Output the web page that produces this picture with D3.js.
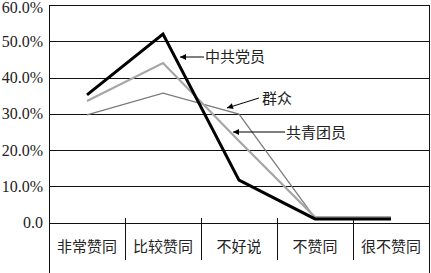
<!DOCTYPE html>
<html><head><meta charset="utf-8">
<script src="https://cdn.jsdelivr.net/npm/d3@7"></script>
<style>body{margin:0;background:#fff}svg{display:block}</style>
</head><body>
<svg id="c" width="431" height="273"></svg>
<script>
const categories = ["非常赞同","比较赞同","不好说","不赞同","很不赞同"];
const partyMember = [35.2, 52.0, 11.7, 1.0, 1.0];   // 中共党员
const youthLeague = [33.5, 44.0, 22.5, 1.5, 1.5];   // 共青团员
const masses      = [29.7, 35.7, 29.9, 1.2, 1.2];   // 群众
const yTicks = [0,10,20,30,40,50,60];
const yTickLabels = ["0.0","10.0%","20.0%","30.0%","40.0%","50.0%","60.0%"];

const svg = d3.select("#c");
const L = 49, R = 429, T = 5, B0 = 222.5;
const x = d3.scaleBand().domain(categories).range([L, R]);
const y = d3.scaleLinear().domain([0,60]).range([B0, T]);

// gridlines
svg.append("g").selectAll("line").data(yTicks).join("line")
  .attr("x1", L).attr("x2", R)
  .attr("y1", d => Math.round(y(d)) + 0.5).attr("y2", d => Math.round(y(d)) + 0.5)
  .attr("stroke", "#111").attr("stroke-width", 1);
// frame
svg.append("line").attr("x1", L+0.5).attr("x2", L+0.5).attr("y1", T).attr("y2", 273).attr("stroke","#111");
svg.append("line").attr("x1", R+0.5).attr("x2", R+0.5).attr("y1", T).attr("y2", 273).attr("stroke","#111");

// y labels
svg.append("g").selectAll("text").data(yTicks).join("text")
  .attr("x", 43).attr("y", d => Math.max(y(d) + 5.5, 13))
  .attr("text-anchor", "end")
  .attr("font-family", "Liberation Serif, serif").attr("font-size", 16).attr("fill", "#222")
  .text((d,i) => yTickLabels[i]);

// category separators
svg.append("g").selectAll("line").data(categories.slice(1)).join("line")
  .attr("x1", d => Math.round(x(d)) + 0.5).attr("x2", d => Math.round(x(d)) + 0.5)
  .attr("y1", 218).attr("y2", 260).attr("stroke", "#111");
// category labels
svg.append("g").selectAll("text").data(categories).join("text")
  .attr("x", d => x(d) + x.bandwidth()/2).attr("y", 247).attr("dy", "0.35em")
  .attr("text-anchor", "middle")
  .attr("font-family", "Noto Sans CJK SC, sans-serif").attr("font-size", 15).attr("fill", "#222")
  .text(d => d);

const line = d3.line().x((d,i) => x(categories[i]) + x.bandwidth()/2).y(d => y(d));
svg.append("path").attr("d", line(masses)).attr("fill","none").attr("stroke","#7a7a7a").attr("stroke-width",1.2);
svg.append("path").attr("d", line(youthLeague)).attr("fill","none").attr("stroke","#a6a6a6").attr("stroke-width",2.2);
svg.append("path").attr("d", line(partyMember)).attr("fill","none").attr("stroke","#000").attr("stroke-width",3).attr("stroke-linejoin","miter");

// annotations
const defs = svg.append("defs");
defs.append("marker").attr("id","ah").attr("viewBox","0 0 10 10").attr("refX",10).attr("refY",5)
  .attr("markerWidth",8).attr("markerHeight",6).attr("markerUnits","userSpaceOnUse").attr("orient","auto")
  .append("path").attr("d","M0,0 L10,5 L0,10 z").attr("fill","#000");
const notes = [
  {t:"中共党员", tip:[180,57], from:[204,57], tx:205, ty:57},
  {t:"群众", tip:[227,108], from:[259,98], tx:262, ty:99},
  {t:"共青团员", tip:[233,132], from:[285,132], tx:286, ty:133}
];
notes.forEach(n => {
  svg.append("line").attr("x1", n.from[0]).attr("y1", n.from[1]).attr("x2", n.tip[0]).attr("y2", n.tip[1])
    .attr("stroke","#000").attr("stroke-width",1).attr("marker-end","url(#ah)");
  svg.append("text").attr("x", n.tx).attr("y", n.ty).attr("dy","0.35em")
    .attr("font-family","Noto Sans CJK SC, sans-serif").attr("font-size",15).attr("fill","#222").text(n.t);
});
</script>
</body></html>
